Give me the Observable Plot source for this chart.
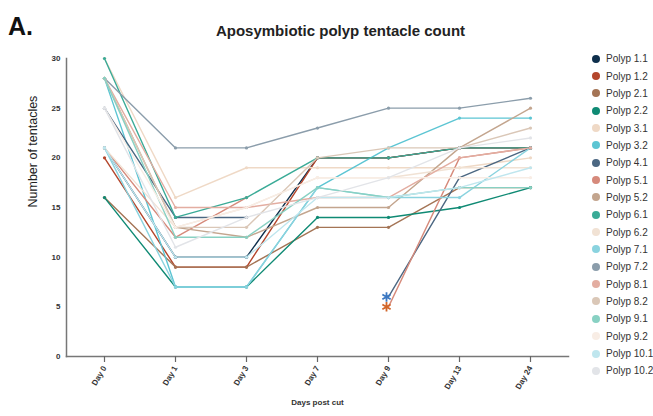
<!DOCTYPE html>
<html><head><meta charset="utf-8">
<script src="https://cdn.jsdelivr.net/npm/d3@7"></script>
<script src="https://cdn.jsdelivr.net/npm/@observablehq/plot@0.6"></script>
<style>
body{margin:0;background:#fff;font-family:"Liberation Sans",Arial,sans-serif;}
#wrap{position:relative;width:653px;height:416px;overflow:hidden;}
#chart{position:absolute;left:0;top:0;}
#panel{position:absolute;left:8px;top:12px;font-size:25px;font-weight:bold;color:#111;}
#title{position:absolute;left:0;width:653px;top:22px;text-align:center;font-size:15px;font-weight:bold;color:#222;padding-left:28px;box-sizing:border-box;}
#legend{position:absolute;left:592px;top:50px;width:61px;font-size:10px;color:#333;white-space:nowrap;}
.li{height:17.35px;display:flex;align-items:center;}
.sw{flex:none;width:8px;height:8px;border-radius:50%;margin-right:6px;}
</style></head>
<body><div id="wrap"><div id="chart"></div><div id="panel">A.</div><div id="title">Aposymbiotic polyp tentacle count</div><div id="legend"></div></div>
<script>
const days = ["Day 0","Day 1","Day 3","Day 7","Day 9","Day 13","Day 24"];
const polypNames = ["Polyp 1.1","Polyp 1.2","Polyp 2.1","Polyp 2.2","Polyp 3.1","Polyp 3.2","Polyp 4.1","Polyp 5.1","Polyp 5.2","Polyp 6.1","Polyp 6.2","Polyp 7.1","Polyp 7.2","Polyp 8.1","Polyp 8.2","Polyp 9.1","Polyp 9.2","Polyp 10.1","Polyp 10.2"];
const polypColors = ["#0e2f4c","#b4462c","#a47455","#0f8a74","#efd9c6","#5cc5d3","#4b6782","#d68a7b","#c3a58e","#3aab97","#f1e2d4","#8ad3df","#8b9dab","#e3ada1","#dac7b7","#88d1c3","#f8ede5","#bfe6ee","#e2e4e8"];
// tentacle counts per polyp, one value per day (null = not recorded)
const p1_1  = [21, 10, 10, 20, 20, 21, 21];
const p1_2  = [20,  9,  9, 20, 20, 21, 21];
const p2_1  = [16,  9,  9, 13, 13, 17, 17];
const p2_2  = [16,  7,  7, 14, 14, 15, 17];
const p3_1  = [30, 16, 19, 19, 19, 19, 20];
const p3_2  = [28,  7,  7, 17, 21, 24, 24];
const p4_1  = [25, 14, 14, null, 6, 18, 21];
const p5_1  = [21, 12, 16, null, 5, 20, 21];
const p5_2  = [28, 13, 12, 15, 15, 21, 25];
const p6_1  = [30, 14, 16, 20, 20, 21, 21];
const p6_2  = [21, 13, 15, 18, 18, 19, 19];
const p7_1  = [21,  7,  7, 17, 16, 16, 21];
const p7_2  = [28, 21, 21, 23, 25, 25, 26];
const p8_1  = [28, 15, 15, 16, 16, 20, 21];
const p8_2  = [28, 13, 13, 20, 21, 21, 23];
const p9_1  = [28, 12, 12, 17, 16, 17, 17];
const p9_2  = [25, 13, 15, 18, 18, 18, 18];
const p10_1 = [21, 10, 10, 16, 16, 17, 19];
const p10_2 = [25, 11, 14, 16, 18, 21, 22];
const flagged = [["Polyp 4.1","Day 9","#3b78c2"],["Polyp 5.1","Day 9","#d2662a"]];
const yTicks = [0,5,10,15,20,25,30];

const series = [p1_1,p1_2,p2_1,p2_2,p3_1,p3_2,p4_1,p5_1,p5_2,p6_1,p6_2,p7_1,p7_2,p8_1,p8_2,p9_1,p9_2,p10_1,p10_2];
const rows = [];
series.forEach((vals,i)=>vals.forEach((v,j)=>rows.push({polyp:polypNames[i],day:days[j],count:v})));
const flagRows = flagged.map(([p,d,c])=>({...rows.find(r=>r.polyp===p&&r.day===d),c}));
const dotRows = rows.filter(r=>r.count!=null && !flagged.some(f=>f[0]===r.polyp&&f[1]===r.day));

const chart = Plot.plot({
  width:653, height:416,
  marginLeft:66, marginRight:85, marginTop:58, marginBottom:60,
  style:{fontFamily:"Liberation Sans, Arial, sans-serif", background:"transparent"},
  x:{type:"point", domain:days, padding:0.5, label:null, axis:null},
  y:{domain:[0,30], axis:null},
  color:{domain:polypNames, range:polypColors},
  marks:[
    Plot.line(rows,{x:"day",y:"count",z:"polyp",stroke:"polyp",strokeWidth:1.4}),
    Plot.dot(dotRows,{x:"day",y:"count",fill:"polyp",r:1.6}),
    Plot.dot(flagRows,{x:"day",y:"count",symbol:"asterisk",stroke:d=>d.c,r:4.5,strokeWidth:1.8,dx:-2}),
    Plot.axisY(yTicks,{ticks:yTicks,tickSize:0,fontSize:8,fontWeight:"bold",fill:"#333",tickPadding:6,label:null}),
    Plot.frame({anchor:"left",stroke:"#777",strokeWidth:1.5}),
    Plot.frame({anchor:"bottom",stroke:"#777",strokeWidth:1.5}),
    Plot.axisX({tickSize:6,stroke:"#666",strokeWidth:1.2,tickRotate:-60,fontSize:8,fontWeight:"bold",fill:"#333",tickPadding:4,label:null}),
    Plot.text(["Days post cut"],{frameAnchor:"bottom",dy:48,fontSize:8,fontWeight:"bold",fill:"#333"}),
    Plot.text(["Number of tentacles"],{frameAnchor:"left",dx:-34,rotate:-90,fontSize:12.5,fontWeight:"500",fill:"#222"})
  ]
});
document.getElementById("chart").appendChild(chart);
const lg = document.getElementById("legend");
polypNames.forEach((n,i)=>{
  const d=document.createElement("div");d.className="li";
  d.innerHTML=`<span class="sw" style="background:${polypColors[i]}"></span><span>${n}</span>`;
  lg.appendChild(d);
});
</script></body></html>
